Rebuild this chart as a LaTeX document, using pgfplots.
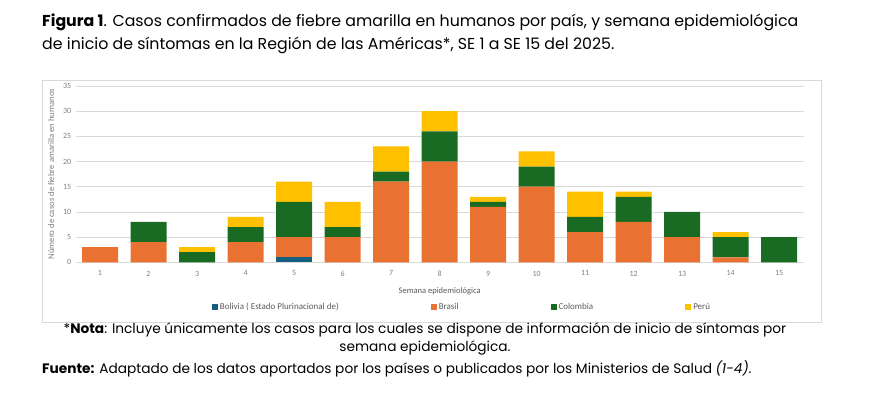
\documentclass[border=0pt]{standalone}
\usepackage{fontspec}
\usepackage{pgfplots}
\pgfplotsset{compat=1.18}
\setmainfont{Poppins}
\newfontfamily\chartfont{Carlito}
\definecolor{cbol}{HTML}{156082}
\definecolor{cbra}{HTML}{E97132}
\definecolor{ccol}{HTML}{196B24}
\definecolor{cper}{HTML}{FFC000}
\definecolor{grid}{HTML}{D9D9D9}
\definecolor{lab}{HTML}{595959}
\definecolor{tlab}{HTML}{7F7F7F}
\begin{document}
\begin{tikzpicture}[x=1pt,y=1pt]
\useasboundingbox (0,0) rectangle (870,397);
% chart box
\draw[color=grid, line width=0.8pt] (42,75) rectangle (821,317);
\begin{axis}[
  at={(75.75pt,134.7pt)}, anchor=south west,
  scale only axis, width=727.75pt, height=176.4pt,
  ybar stacked, bar width=36pt,
  xmin=0.5, xmax=15.5, ymin=0, ymax=35,
  xtick={1,...,15}, ytick={0,5,...,35},
  axis line style={draw=none},
  ymajorgrids, grid style={color=grid, line width=0.8pt},
  major tick length=0pt,
  /pgf/number format/assume math mode=true,
  tick label style={font=\chartfont\fontsize{8}{9}\selectfont, color=tlab},
  xticklabel style={yshift=-5pt},
  yticklabel style={xshift=-1pt},
  xlabel={Semana epidemiológica},
  xlabel style={font=\chartfont\fontsize{8.5}{9}\selectfont, color=lab, yshift=-4pt},
  ylabel={Número de casos de fiebre amarilla en humanos},
  ylabel style={font=\chartfont\fontsize{8.7}{9}\selectfont, color=tlab, yshift=2pt},
  legend style={at={(0.5307,-0.253)}, anchor=center, draw=none, fill=none,
    font=\chartfont\fontsize{9}{10}\selectfont, text=lab,
    legend columns=4, /tikz/every even column/.append style={column sep=90pt}},
  legend image code/.code={\fill[#1] (0pt,-3pt) rectangle (6pt,3pt);},
]
\addplot[fill=cbol, draw=none] coordinates {(1,0) (2,0) (3,0) (4,0) (5,1) (6,0) (7,0) (8,0) (9,0) (10,0) (11,0) (12,0) (13,0) (14,0) (15,0)};
\addplot[fill=cbra, draw=none] coordinates {(1,3) (2,4) (3,0) (4,4) (5,4) (6,5) (7,16) (8,20) (9,11) (10,15) (11,6) (12,8) (13,5) (14,1) (15,0)};
\addplot[fill=ccol, draw=none] coordinates {(1,0) (2,4) (3,2) (4,3) (5,7) (6,2) (7,2) (8,6) (9,1) (10,4) (11,3) (12,5) (13,5) (14,4) (15,5)};
\addplot[fill=cper, draw=none] coordinates {(1,0) (2,0) (3,1) (4,2) (5,4) (6,5) (7,5) (8,4) (9,1) (10,3) (11,5) (12,1) (13,0) (14,1) (15,0)};
\legend{Bolivia ( Estado Plurinacional de), Brasil, Colombia, Perú}
\end{axis}
% title
\node[anchor=base west, inner sep=0pt, font=\fontsize{15.8}{18}\selectfont] at (42,370) {\textbf{Figura 1}. Casos confirmados de fiebre amarilla en humanos por país, y semana epidemiológica};
\node[anchor=base west, inner sep=0pt, font=\fontsize{15.8}{18}\selectfont] at (42,347) {de inicio de síntomas en la Región de las Américas*, SE 1 a SE 15 del 2025.};
% notes
\node[anchor=base, inner sep=0pt, font=\fontsize{13.7}{15}\selectfont] at (425,64) {*\textbf{Nota}: Incluye únicamente los casos para los cuales se dispone de información de inicio de síntomas por};
\node[anchor=base, inner sep=0pt, font=\fontsize{13.7}{15}\selectfont] at (425,46) {semana epidemiológica.};
\node[anchor=base west, inner sep=0pt, font=\fontsize{13.7}{15}\selectfont] at (42,24) {\textbf{Fuente:} Adaptado de los datos aportados por los países o publicados por los Ministerios de Salud \textit{(1-4)}.};
\end{tikzpicture}
\end{document}
